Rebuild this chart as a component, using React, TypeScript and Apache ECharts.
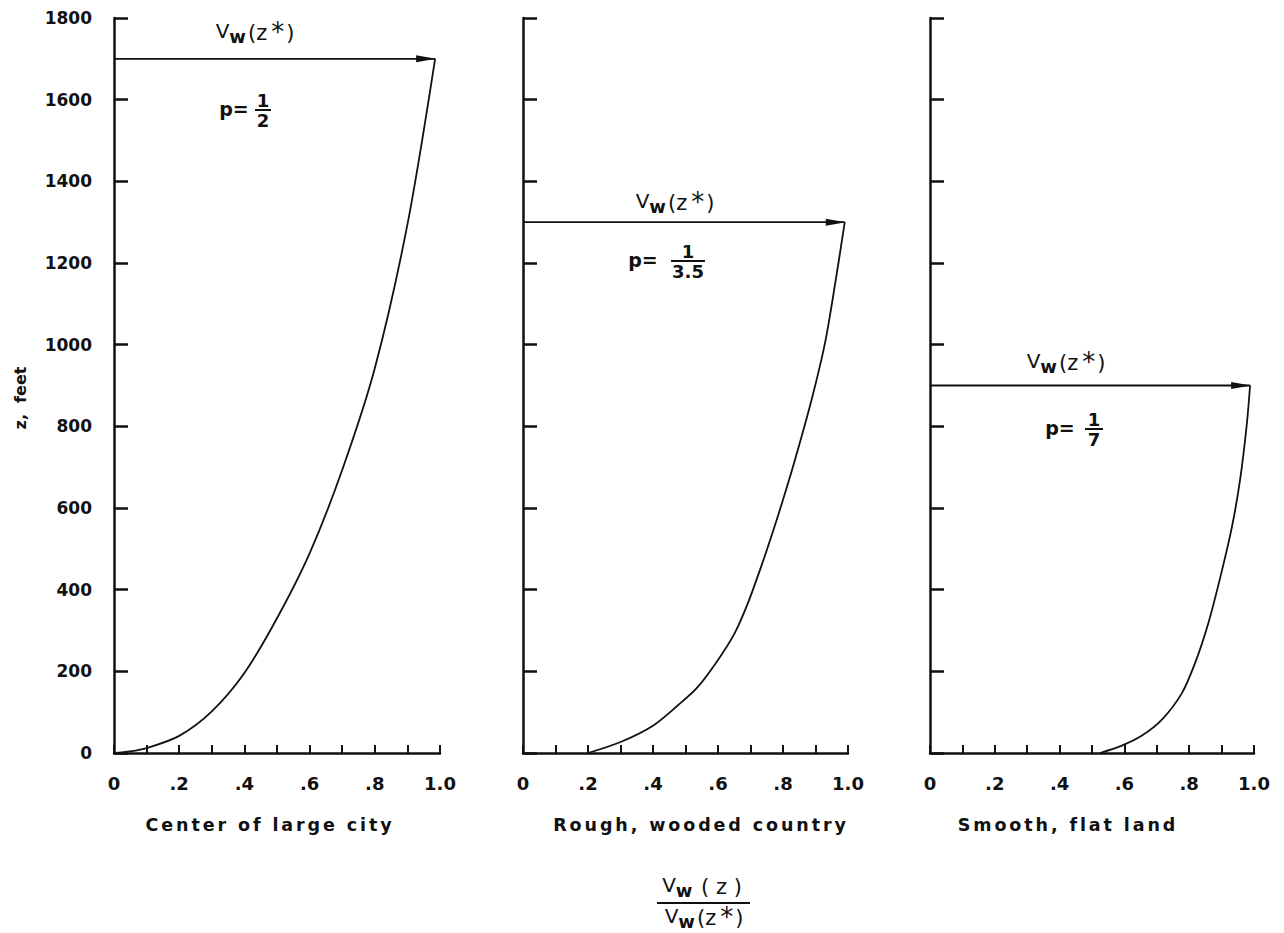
import React, { useEffect, useRef } from "react";
import * as echarts from "echarts";

// ---- data ----
const xTickLabels = ["0", ".2", ".4", ".6", ".8", "1.0"];
const panelNames = ["Center of large city", "Rough, wooded country", "Smooth, flat land"];
const exponentDenoms = ["2", "3.5", "7"];
const refHeights = [1700, 1300, 900]; // z* (feet)
const arrowEnd = [0.985, 0.99, 0.988];

// z (feet) vs Vw(z)/Vw(z*)
const cityProfile: [number, number][] = [
  [0, 0], [0.05, 4], [0.1, 12], [0.2, 42], [0.3, 102], [0.4, 196], [0.5, 330],
  [0.6, 489], [0.7, 693], [0.8, 942], [0.9, 1294], [0.985, 1700],
];
const woodedProfile: [number, number][] = [
  [0.2, 0], [0.3, 27], [0.4, 67], [0.477, 117], [0.538, 162], [0.6, 228],
  [0.651, 293], [0.692, 367], [0.733, 457], [0.764, 530], [0.8, 620],
  [0.834, 710], [0.887, 862], [0.929, 1003], [0.959, 1142], [0.99, 1300],
];
const flatProfile: [number, number][] = [
  [0.525, 0], [0.592, 18], [0.653, 42], [0.715, 81], [0.777, 146], [0.818, 220],
  [0.859, 318], [0.894, 424], [0.931, 550], [0.957, 669], [0.977, 799], [0.988, 900],
];
const profiles = [cityProfile, woodedProfile, flatProfile];

const FONT = "DejaVu Sans";
const INK = "#111";
const SPACED = 17.5; // font size used only by the letter-spaced captions

export default function App() {
  const ref = useRef<HTMLDivElement>(null);
  useEffect(() => {
    if (!ref.current) return;
    const chart = echarts.init(ref.current, undefined, { renderer: "svg" });

    const grids = [
      { left: 114, top: 18, width: 326, height: 735 },
      { left: 523, top: 18, width: 325, height: 735 },
      { left: 930, top: 18, width: 324, height: 735 },
    ];

    const xAxes = grids.map((_, i) => ({
      type: "value",
      gridIndex: i,
      min: 0,
      max: 1,
      interval: 0.2,
      axisLine: { show: true, lineStyle: { color: INK, width: 2.5 } },
      axisTick: { show: true, inside: true, length: 8, lineStyle: { color: INK, width: 2 } },
      minorTick: { show: true, splitNumber: 2, length: 8, lineStyle: { color: INK, width: 2 } },
      splitLine: { show: false },
      minorSplitLine: { show: false },
      axisLabel: {
        margin: 21,
        fontSize: 18,
        fontWeight: "bold",
        fontFamily: FONT,
        color: INK,
        formatter: (v: number) => xTickLabels[Math.round(v / 0.2)] ?? "",
      },
    }));

    const yAxes = grids.map((_, i) => ({
      type: "value",
      gridIndex: i,
      min: 0,
      max: 1800,
      interval: 200,
      axisLine: { show: true, onZero: false, lineStyle: { color: INK, width: 2.5 } },
      axisTick: { show: true, inside: true, length: 14, lineStyle: { color: INK, width: 2.5 } },
      splitLine: { show: false },
      axisLabel: {
        show: i === 0,
        margin: 22,
        fontSize: 17,
        fontWeight: "bold",
        fontFamily: FONT,
        color: INK,
        formatter: (v: number) => String(v),
      },
    }));

    const series: any[] = [];
    profiles.forEach((p, i) => {
      series.push({
        type: "line",
        xAxisIndex: i,
        yAxisIndex: i,
        data: p,
        smooth: 0.3,
        showSymbol: false,
        lineStyle: { color: INK, width: 1.8 },
        silent: true,
      });
      series.push({
        type: "line",
        xAxisIndex: i,
        yAxisIndex: i,
        data: [
          { value: [0, refHeights[i]], symbol: "none" },
          {
            value: [arrowEnd[i], refHeights[i]],
            symbol: "path://M0,0 L10,3 L0,6 Z",
            symbolSize: [20, 7],
            symbolOffset: [-9, 0],
            itemStyle: { color: INK },
          },
        ],
        showSymbol: true,
        showAllSymbol: true,
        lineStyle: { color: INK, width: 1.8 },
        itemStyle: { color: INK },
        silent: true,
      });
    });

    const vwRich = {
      v: { fontSize: 20, fontFamily: FONT, fill: INK, padding: [0, 0, 5, 0] },
      w: { fontSize: 18, fontFamily: FONT, fontWeight: "bold", fill: INK, padding: [7, 2, 0, 0] },
      p: { fontSize: 21, fontFamily: FONT, fill: INK },
      s: { fontSize: 26, fontFamily: FONT, fill: INK, padding: [0, 2, 2, 4] },
    };

    const vwStar = (x: number, y: number) => ({
      type: "text",
      x,
      y,
      style: {
        text: "{v|V}{w|w}{p|(z}{s|*}{p|)}",
        align: "center",
        verticalAlign: "middle",
        fill: INK,
        rich: vwRich,
      },
    });

    const frac = (px: number, py: number, fx: number, lineW: number, denom: string) => [
      { type: "text", x: px, y: py, style: { text: "p=", fontSize: 19, fontWeight: "bold", fontFamily: FONT, fill: INK, align: "center", verticalAlign: "middle" } },
      { type: "text", x: fx, y: py - 9, style: { text: "1", fontSize: 18, fontFamily: FONT, fontWeight: "bold", fill: INK, align: "center", verticalAlign: "middle" } },
      { type: "line", shape: { x1: fx - lineW / 2, y1: py + 1, x2: fx + lineW / 2, y2: py + 1 }, style: { stroke: INK, lineWidth: 2 } },
      { type: "text", x: fx, y: py + 11, style: { text: denom, fontSize: 18, fontFamily: FONT, fontWeight: "bold", fill: INK, align: "center", verticalAlign: "middle" } },
    ];

    const panelLabelX = [270, 701, 1068];

    const graphic: any[] = [
      vwStar(255, 33),
      vwStar(675, 203),
      vwStar(1066, 363),
      ...frac(234, 109, 263, 16, exponentDenoms[0]),
      ...frac(643, 260, 688, 34, exponentDenoms[1]),
      ...frac(1060, 428, 1094, 18, exponentDenoms[2]),
      ...panelNames.map((n, i) => ({
        type: "text",
        x: panelLabelX[i],
        y: 825,
        style: { text: n, fontSize: SPACED, fontFamily: FONT, fontWeight: "bold", fill: INK, align: "center", verticalAlign: "middle" },
      })),
      {
        type: "text",
        x: 20,
        y: 398,
        rotation: Math.PI / 2,
        style: { text: "z,  feet", fontSize: 16, fontFamily: FONT, fontWeight: "bold", fill: INK, align: "center", verticalAlign: "middle" },
      },
      {
        type: "text",
        x: 702,
        y: 887,
        style: {
          text: "{v|V}{w|w}{p| ( z )}",
          align: "center",
          verticalAlign: "middle",
          rich: vwRich,
        },
      },
      { type: "line", shape: { x1: 657, y1: 903, x2: 750, y2: 903 }, style: { stroke: INK, lineWidth: 2 } },
      vwStar(704, 918),
    ];

    chart.setOption({
      animation: false,
      backgroundColor: "#fff",
      grid: grids.map((g) => ({ ...g, containLabel: false })),
      xAxis: xAxes,
      yAxis: yAxes,
      series,
      graphic,
    });
    return () => chart.dispose();
  }, []);
  return (
    <>
      <style>{`#wind-chart text[style*="17.5px"]{letter-spacing:2.9px;}`}</style>
      <div id="wind-chart" ref={ref} style={{ position: "absolute", left: 0, top: 0, width: 1284, height: 933 }} />
    </>
  );
}
